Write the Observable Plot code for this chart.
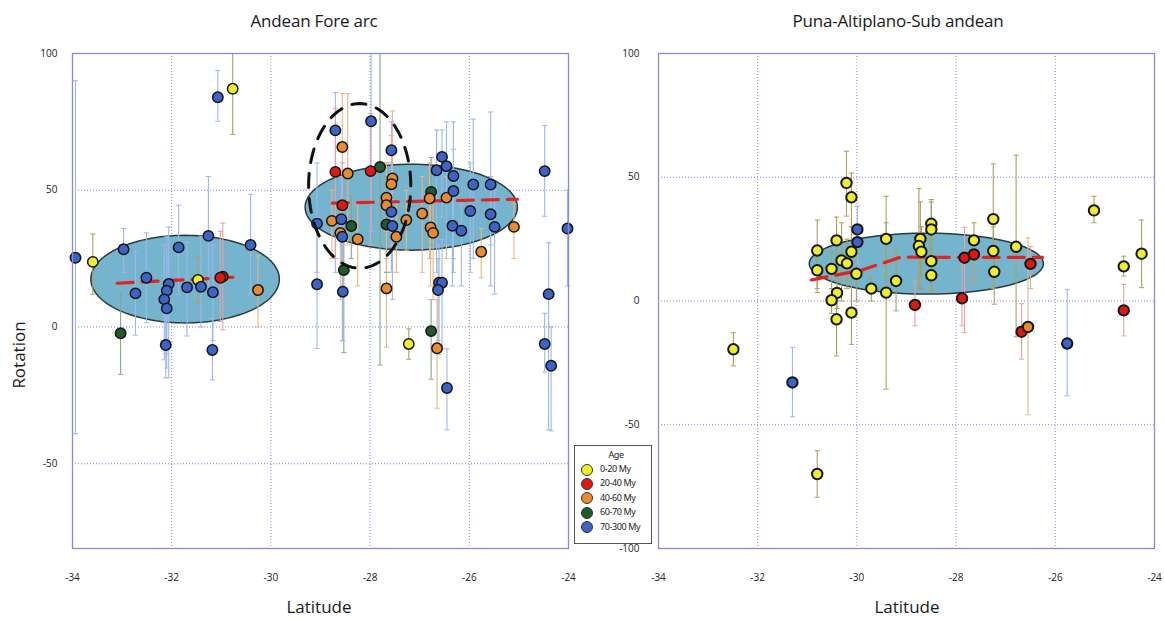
<!DOCTYPE html>
<html><head><meta charset="utf-8">
<script src="https://cdn.jsdelivr.net/npm/d3@7"></script>
<script src="https://cdn.jsdelivr.net/npm/@observablehq/plot@0.6"></script>
<style>
body{margin:0;background:#fff;}
#wrap{position:relative;width:1164px;height:620px;font-family:"Open Sans",sans-serif;overflow:hidden;background:#fff;}
.abs{position:absolute;}
.ctr{transform:translateX(-50%);white-space:nowrap;color:#1a1a1a;}
.title{font-size:17px;letter-spacing:-0.2px;}
.axl{font-size:17px;}
#legend{position:absolute;left:574px;top:445px;width:76px;height:97px;border:1.6px solid #555;background:#fff;font-family:"Noto Sans",sans-serif;font-size:9px;color:#222;letter-spacing:-0.4px;}
#legend .hd{text-align:center;margin-top:1px;height:15px;line-height:15px;padding-left:6px;}
#legend .row{position:relative;height:14.4px;line-height:14.4px;padding-left:25px;}
#legend .sw{position:absolute;left:6px;top:1.5px;width:10px;height:10px;border-radius:50%;border:1px solid #333;}
</style></head><body><div id="wrap"></div>
<script>
// ---- categories / colours ----
const ageGroups = ["0-20 My","20-40 My","40-60 My","60-70 My","70-300 My"];
const ageFill = ["#f1ee24","#e3170f","#e98a2d","#1f5a2b","#3b63c8"];
const ageBar = ["#a9a25c","#e8a0a0","#e9b585","#86a686","#9cb7ee"];

// ---- tick labels ----
const xTicks = [-34,-32,-30,-28,-26,-24];
const leftYTicks = [-50,0,50,100];
const rightYTicks = [-100,-50,0,50,100];
const panelTitles = ["Andean Fore arc","Puna-Altiplano-Sub andean"];

// ---- Andean Fore arc (left panel) ----
const leftLat = [-33.94,-33.59,-33.03,-32.97,-32.73,-32.51,-32.06,-32.10,-32.15,-32.10,-32.12,-31.86,-31.69,-31.47,-31.41,-31.26,-31.17,-31.18,-30.97,-31.02,-30.41,-30.26,-31.07,-30.77,
 -28.70,-28.56,-28.70,-28.45,-27.98,-27.99,-27.80,-27.57,-27.55,-27.57,-28.56,-27.67,-27.67,-27.57,-28.77,-28.58,-29.07,-28.38,-28.60,-28.56,-28.25,-27.67,-27.55,-27.47,-27.27,-26.95,
 -26.77,-26.80,-26.46,-26.78,-26.73,-26.55,-26.46,-26.66,-26.32,-26.32,-25.92,-25.57,-25.98,-25.57,-26.34,-26.16,-25.49,-25.10,-25.76,-24.48,-24.02,-28.53,-29.07,-28.55,-27.67,-26.61,
 -26.55,-26.63,-24.40,-26.77,-27.22,-26.65,-24.48,-24.35,-26.45];
const leftRot = [25.3,23.8,-2.3,28.4,12.3,18.0,15.7,13.3,10.1,6.8,-6.6,29.1,14.5,17.2,14.7,33.3,12.7,-8.4,18.4,18.0,30.0,13.5,84.0,87.1,
 71.9,65.8,56.7,56.1,75.2,57.0,58.5,64.6,54.3,52.2,44.5,47.3,44.5,42.1,38.8,39.4,37.8,36.9,34.4,33.0,32.1,37.5,36.9,33.0,39.1,41.5,
 49.4,47.0,47.3,36.4,34.4,62.2,58.8,57.3,55.2,49.7,52.1,52.1,42.4,41.2,37.0,35.2,36.6,36.6,27.5,57.0,36.0,20.8,15.6,12.9,14.1,16.2,
 16.2,13.5,12.0,-1.5,-6.2,-7.8,-6.2,-14.2,-22.3];
const leftLo = [-39,12,-17.3,20,-3,1.5,-18.6,-15,-12,-10,-18.6,12,-3.3,8.6,0,12,-5,-19.3,-1,2,12,0,75.2,70.4,
 20,20,25,30,35,30,-13.9,40,35,30,15,20,25,20,25,20,20,25,10,-5,15,20,10,20,28,20,
 30,25,25,15,10,40,30,20,25,20,25,30,20,15,15,15,12,25,18,40.5,15,-9.4,-7.8,-5,-7.4,-10,
 -8,-5,-37.6,-19.1,-11.8,-29.7,-16.5,-38,-37.6];
const leftHi = [90,34,12.5,36,27.5,34.4,36.6,33,30,26,5,44.5,31,25.7,33,55,30,3,38,35,48.5,26,93.8,100,
 85.7,85.3,80,85.3,100,78,100,75,79,70,60,60,60,60,50,55,60,48,45,45,45,55,55,45,50,55,
 62,60,55,50,50,72,75,72,75,65,76,78.6,60,55,50,45,50,45,36,73.7,50,35,40,30,35,30,
 32,25,30.8,10,-0.7,10,5,0,-8];
const leftAge = [4,0,3,4,4,4,4,4,4,4,4,4,4,0,4,4,4,4,1,1,4,2,4,0,
 4,2,1,2,4,1,3,4,2,2,1,2,2,4,2,4,4,3,2,4,2,3,4,2,2,2,
 3,2,2,2,2,4,4,4,4,4,4,4,4,4,4,4,4,2,2,4,4,3,4,4,2,4,
 4,4,4,3,0,2,4,4,4];

// ---- Puna-Altiplano-Sub andean (right panel) ----
const rightLat = [-32.49,-31.30,-30.80,-30.80,-30.80,-30.41,-30.51,-30.31,-30.20,-30.11,-30.01,-30.40,-30.51,-30.41,-30.11,-30.21,-30.11,-29.99,-29.99,-29.71,-29.41,-29.41,-29.21,-28.83,
 -28.72,-28.75,-28.70,-28.50,-28.50,-28.50,-28.50,-27.83,-27.88,-27.64,-27.64,-27.25,-27.25,-27.23,-26.79,-26.50,-26.68,-26.55,-25.76,-25.22,-24.62,-24.26,-24.62];
const rightRot = [-19.5,-32.9,-69.9,20.4,12.4,24.5,13.0,16.4,15.2,19.9,11.0,3.3,0.3,-7.4,-4.7,47.7,41.9,28.9,23.8,5.0,3.4,25.1,8.1,-1.6,
 25.1,22.2,19.9,31.2,28.9,16.1,10.4,17.5,1.1,18.8,24.5,33.1,20.2,11.8,21.9,15.0,-12.4,-10.5,-17.2,36.6,14.0,19.1,-3.8];
const rightLo = [-26.2,-46.8,-79.3,3.4,5,10,5,0,5,10,0,-3,-5,-22.2,-17.5,34.3,30,20,15,0,-35.6,10,-4,-10,
 10,5,5,15,15,4,4,-12.8,-10,7,7,20,5,-1.3,-14.5,5,-23.5,-46,-38.3,31.6,10.1,5.4,-14.1];
const rightHi = [-12.8,-18.8,-60.5,32.7,20,33.9,20,31.6,25,30,20,10,5,5,10,60.5,51.7,38.3,30,9.4,31.6,42.3,20.2,8,
 40,45.4,30,41,40,25,20,29.8,15,25,31.6,55.4,30,20,58.9,22,-1.1,25.5,4.7,42.3,18.1,32.7,6.7];
const rightAge = [0,4,0,0,0,0,0,0,0,0,0,0,0,0,0,0,0,4,4,0,0,0,0,1,
 0,0,0,0,0,0,0,1,1,1,0,0,0,0,0,1,1,2,4,0,0,0,1];

// ---- interpretation shapes (centre / radii in data units) ----
const leftEllCx = [-31.73,-27.17], leftEllCy = [17.5,43.8], leftEllRx = [1.9,2.14], leftEllRy = [16,15.7];
const dashEllCx = [-28.21], dashEllCy = [51.6], dashEllRx = [1.03], dashEllRy = [30.1];
const rightEllCx = [-28.60], rightEllCy = [15.1], rightEllRx = [2.36], rightEllRy = [12.3];

// ---- mean trend (red dashed) ----
const leftTrendId = [0,0,1,1];
const leftTrendLat = [-33.1,-30.75,-28.76,-25.03];
const leftTrendRot = [16,18.2,45.3,46.7];
const rightTrendLat = [-30.92,-29.9,-29.12,-26.26];
const rightTrendRot = [8.5,12.5,17.7,17.6];

// ---- build tables ----
const rows = (lat, rot, lo, hi, age) => lat.map((v,i)=>({lat:v, rot:rot[i], lo:lo[i], hi:Math.min(100,hi[i]), age:age[i]}));
const leftRows = rows(leftLat,leftRot,leftLo,leftHi,leftAge);
const rightRows = rows(rightLat,rightRot,rightLo,rightHi,rightAge);
function ellipse(cx,cy,rx,ry){
  const out=[];
  cx.forEach((c,k)=>{ for(let i=0;i<=120;i++){const t=i/120*2*Math.PI; out.push({id:k,lat:c+rx[k]*Math.cos(t),rot:cy[k]+ry[k]*Math.sin(t)});} });
  return out;
}
const leftTrend = leftTrendLat.map((v,i)=>({id:leftTrendId[i],lat:v,rot:leftTrendRot[i]}));
const rightTrend = rightTrendLat.map((v,i)=>({id:0,lat:v,rot:rightTrendRot[i]}));

const capSymbol = {draw(ctx,size){const r=Math.sqrt(size/Math.PI); ctx.moveTo(-r,0); ctx.lineTo(r,0);}};

function panel(opts){
  const {data, yDomain, yTicks, width, marginLeft, marginRight, ells, dashEll, trend, yPad, dotStroke} = opts;
  const marks = [
    Plot.gridX(xTicks,{stroke:"#6f6fd4",strokeOpacity:0.85,strokeDasharray:"1,2",strokeWidth:1}),
    Plot.gridY(yTicks,{stroke:"#6f6fd4",strokeOpacity:0.85,strokeDasharray:"1,2",strokeWidth:1}),
    Plot.line(ells,{x:"lat",y:"rot",z:"id",fill:"#74b4cd",stroke:"#2a3a40",strokeWidth:1.5}),
    Plot.ruleX(data,{x:"lat",y1:"lo",y2:"hi",stroke:d=>ageBar[d.age],strokeWidth:1.1}),
    Plot.dot(data,{x:"lat",y:"hi",symbol:capSymbol,r:2.6,fill:"none",stroke:d=>ageBar[d.age],strokeWidth:1}),
    Plot.dot(data,{x:"lat",y:"lo",symbol:capSymbol,r:2.6,fill:"none",stroke:d=>ageBar[d.age],strokeWidth:1}),
    Plot.line(trend,{x:"lat",y:"rot",z:"id",stroke:"#e3231f",strokeWidth:3.2,strokeDasharray:"16,9"}),
    Plot.dot(data,{x:"lat",y:"rot",r:5.2,fill:d=>ageFill[d.age],stroke:"#151515",strokeWidth:dotStroke}),
  ];
  if (dashEll) marks.push(Plot.line(dashEll,{x:"lat",y:"rot",z:"id",stroke:"#111",strokeWidth:3,strokeDasharray:"14,11"}));
  marks.push(
    Plot.frame({stroke:"#8a8ad8",strokeWidth:1.3}),
    Plot.axisX(xTicks,{tickSize:0,tickPadding:25,tickFormat:d=>String(d),label:null,fill:"#222"}),
    Plot.axisY(yTicks,{tickSize:0,tickPadding:yPad,tickFormat:d=>String(d),label:null,fill:"#222"})
  );
  return Plot.plot({
    width, height:620, marginLeft, marginRight, marginTop:53, marginBottom:72,
    x:{domain:[-34,-24]}, y:{domain:yDomain},
    color:{type:"identity"},
    style:{background:"transparent",fontFamily:"'Open Sans',sans-serif",fontSize:"10px",overflow:"visible"},
    marks
  });
}

const wrap = document.getElementById("wrap");
const left = panel({data:leftRows,yDomain:[-81,100],yTicks:leftYTicks,width:600,marginLeft:72,marginRight:32,
  ells:ellipse(leftEllCx,leftEllCy,leftEllRx,leftEllRy),dashEll:ellipse(dashEllCx,dashEllCy,dashEllRx,dashEllRy),
  trend:leftTrend,yPad:15,dotStroke:1.5});
left.style.position="absolute"; left.style.left="0px"; left.style.top="0px";
wrap.appendChild(left);
const right = panel({data:rightRows,yDomain:[-100,100],yTicks:rightYTicks,width:564,marginLeft:58,marginRight:10,
  ells:ellipse(rightEllCx,rightEllCy,rightEllRx,rightEllRy),dashEll:null,
  trend:rightTrend,yPad:19,dotStroke:2});
right.style.position="absolute"; right.style.left="600px"; right.style.top="0px";
wrap.appendChild(right);

function addText(cls, txt, x, y, extra){
  const d=document.createElement("div"); d.className="abs ctr "+cls; d.textContent=txt;
  d.style.left=x+"px"; d.style.top=y+"px"; if(extra) Object.assign(d.style,extra); wrap.appendChild(d);
}
addText("title",panelTitles[0],314,9);
addText("title",panelTitles[1],898,9);
addText("axl","Latitude",319,595);
addText("axl","Latitude",907,595);
const rot=document.createElement("div");
rot.className="abs axl"; rot.textContent="Rotation";
Object.assign(rot.style,{left:"18px",top:"355px",transform:"translate(-50%,-50%) rotate(-90deg)",whiteSpace:"nowrap",color:"#1a1a1a"});
wrap.appendChild(rot);

// legend
const lg=document.createElement("div"); lg.id="legend";
const hd=document.createElement("div"); hd.className="hd"; hd.textContent="Age"; lg.appendChild(hd);
ageGroups.forEach((g,i)=>{
  const r=document.createElement("div"); r.className="row";
  const s=document.createElement("span"); s.className="sw"; s.style.background=ageFill[i];
  r.appendChild(s); r.appendChild(document.createTextNode(g)); lg.appendChild(r);
});
wrap.appendChild(lg);
</script></body></html>
